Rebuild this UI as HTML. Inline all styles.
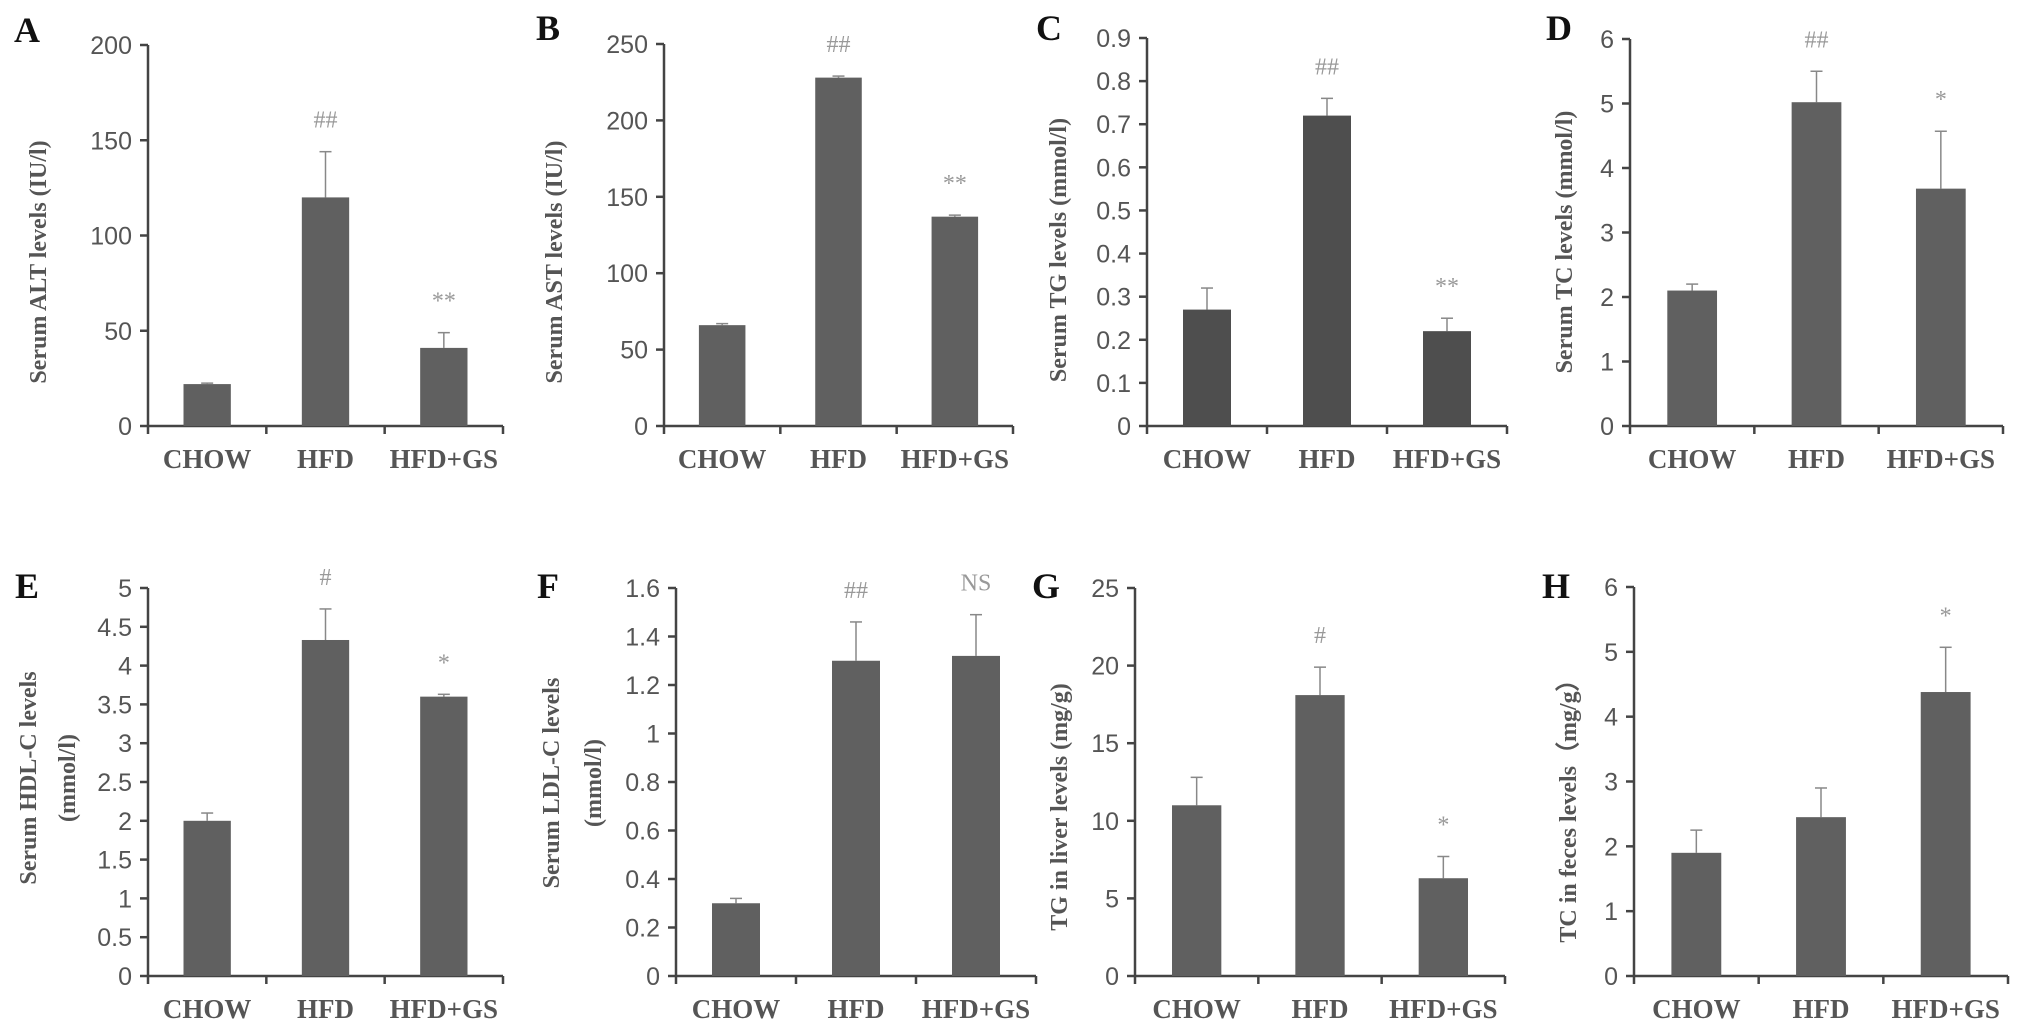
<!DOCTYPE html>
<html><head><meta charset="utf-8">
<style>
html,body{margin:0;padding:0;background:#fff;}
svg{display:block;}
.tk{font-family:"Liberation Sans",sans-serif;font-size:25px;fill:#555;}
.cat{font-family:"Liberation Serif",serif;font-weight:bold;font-size:27px;fill:#555;}
.ttl{font-family:"Liberation Serif",serif;font-weight:bold;font-size:24px;fill:#555;}
.let{font-family:"Liberation Serif",serif;font-weight:bold;font-size:36px;fill:#111;}
.mk{font-family:"Liberation Serif",serif;font-size:24px;fill:#999;}
</style></head>
<body>
<svg id="fig" width="2031" height="1035" viewBox="0 0 2031 1035" xmlns="http://www.w3.org/2000/svg"></svg>
<script>
const categories = ["CHOW","HFD","HFD+GS"];
const valsA = [22,120,41];   const errA = [22.5,144,49];  const mkA = ["","##","**"];
const valsB = [66,228,137];  const errB = [67,229,138];   const mkB = ["","##","**"];
const valsC = [0.27,0.72,0.22]; const errC = [0.32,0.76,0.25]; const mkC = ["","##","**"];
const valsD = [2.1,5.02,3.68]; const errD = [2.2,5.5,4.57]; const mkD = ["","##","*"];
const valsE = [2.0,4.33,3.6]; const errE = [2.1,4.73,3.63]; const mkE = ["","#","*"];
const valsF = [0.3,1.3,1.32]; const errF = [0.32,1.46,1.49]; const mkF = ["","##","NS"];
const valsG = [11,18.1,6.3]; const errG = [12.8,19.9,7.7]; const mkG = ["","#","*"];
const valsH = [1.9,2.45,4.38]; const errH = [2.25,2.9,5.07]; const mkH = ["","","*"];
const ticksA = ["0","50","100","150","200"];
const ticksB = ["0","50","100","150","200","250"];
const ticksC = ["0","0.1","0.2","0.3","0.4","0.5","0.6","0.7","0.8","0.9"];
const ticksD = ["0","1","2","3","4","5","6"];
const ticksE = ["0","0.5","1","1.5","2","2.5","3","3.5","4","4.5","5"];
const ticksF = ["0","0.2","0.4","0.6","0.8","1","1.2","1.4","1.6"];
const ticksG = ["0","5","10","15","20","25"];
const ticksH = ["0","1","2","3","4","5","6"];

const NS="http://www.w3.org/2000/svg";
const svg=document.getElementById('fig');
function mk(tag,attrs,parent){const e=document.createElementNS(NS,tag);for(const k in attrs)e.setAttribute(k,attrs[k]);(parent||svg).appendChild(e);return e;}

const panels=[
 {id:'a',L:'A',lx:14,ly:42,ax:148,top:45,zero:426,right:503,vals:valsA,err:errA,mk:mkA,ticks:ticksA,title:['Serum ALT levels (IU/l)'],tx:[37],ty:262,col:'#606060'},
 {id:'b',L:'B',lx:536,ly:40,ax:664,top:44,zero:426,right:1013,vals:valsB,err:errB,mk:mkB,ticks:ticksB,title:['Serum AST  levels (IU/l)'],tx:[553],ty:262,col:'#606060'},
 {id:'c',L:'C',lx:1036,ly:40,ax:1147,top:38,zero:426,right:1507,vals:valsC,err:errC,mk:mkC,ticks:ticksC,title:['Serum  TG  levels (mmol/l)'],tx:[1057],ty:250,col:'#4e4e4e'},
 {id:'d',L:'D',lx:1546,ly:40,ax:1630,top:39,zero:426,right:2003,vals:valsD,err:errD,mk:mkD,ticks:ticksD,title:['Serum TC levels (mmol/l)'],tx:[1563],ty:242,col:'#606060'},
 {id:'e',L:'E',lx:15,ly:598,ax:148,top:588,zero:976,right:503,vals:valsE,err:errE,mk:mkE,ticks:ticksE,title:['Serum HDL-C levels','(mmol/l)'],tx:[27,66],ty:778,col:'#606060'},
 {id:'f',L:'F',lx:537,ly:598,ax:676,top:588,zero:976,right:1036,vals:valsF,err:errF,mk:mkF,ticks:ticksF,title:['Serum LDL-C levels','(mmol/l)'],tx:[550,592],ty:783,col:'#606060'},
 {id:'g',L:'G',lx:1032,ly:598,ax:1135,top:588,zero:976,right:1505,vals:valsG,err:errG,mk:mkG,ticks:ticksG,title:['TG in liver levels (mg/g)'],tx:[1058],ty:807,col:'#606060'},
 {id:'h',L:'H',lx:1542,ly:598,ax:1634,top:587,zero:976,right:2008,vals:valsH,err:errH,mk:mkH,ticks:ticksH,title:['TC in feces levels（mg/g）'],tx:[1567],ty:805,col:'#606060'}
];

panels.forEach(p=>{
 const g=mk('g',{});
 
 
 const nT=p.ticks.length-1, maxV=parseFloat(p.ticks[nT]);
 const y=v=>p.zero-(v/maxV)*(p.zero-p.top);
 const band=(p.right-p.ax)/categories.length;
 const xc=i=>p.ax+(i+0.5)*band;
 const bw=band*0.4;
 const lt=mk('text',{x:p.lx,y:p.ly,class:'let'},g); lt.textContent=p.L;
 
 
 const ya=mk('line',{x1:p.ax,y1:p.top,x2:p.ax,y2:p.zero+8,stroke:'#444','stroke-width':2.5},g);
 
 
 const xa=mk('line',{x1:p.ax,y1:p.zero,x2:p.right,y2:p.zero,stroke:'#444','stroke-width':2.5},g);
 
 
 for(let i=1;i<=categories.length;i++){
   mk('line',{x1:p.ax+i*band,y1:p.zero,x2:p.ax+i*band,y2:p.zero+8,stroke:'#444','stroke-width':2.5},g);
 }
 p.ticks.forEach(t=>{
   const v=parseFloat(t), yy=y(v);
   mk('line',{x1:p.ax-8,y1:yy,x2:p.ax,y2:yy,stroke:'#444','stroke-width':2.5},g);
   const tt=mk('text',{x:p.ax-16,y:yy+9,class:'tk','text-anchor':'end'},g); tt.textContent=t;
   
   
 });
 p.title.forEach((line,k)=>{
   const t=mk('text',{x:0,y:0,class:'ttl','text-anchor':'middle',transform:`translate(${p.tx[k]+9},${p.ty}) rotate(-90)`},g);
   t.textContent=line;
   
   
 });
 categories.forEach((c,i)=>{
   const cx=xc(i);
   const ct=mk('text',{x:cx,y:p.zero+42,class:'cat','text-anchor':'middle'},g); ct.textContent=c;
   
   
   const e=mk('line',{x1:cx,y1:y(p.err[i]),x2:cx,y2:y(p.vals[i]),stroke:'#888','stroke-width':1.5},g);
   
   
   mk('line',{x1:cx-6,y1:y(p.err[i]),x2:cx+6,y2:y(p.err[i]),stroke:'#888','stroke-width':1.5},g);
   const b=mk('rect',{x:cx-bw/2,y:y(p.vals[i]),width:bw,height:p.zero-y(p.vals[i]),fill:p.col},g);
   
   
   if(p.mk[i]){
     const m=mk('text',{x:cx,y:y(p.err[i])-24,class:'mk','text-anchor':'middle'},g); m.textContent=p.mk[i];
     
     
   }
 });
});
</script>
</body></html>
